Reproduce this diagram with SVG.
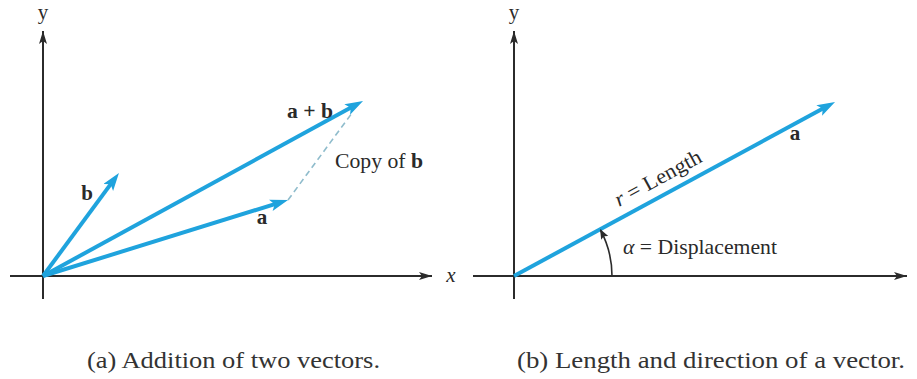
<svg xmlns="http://www.w3.org/2000/svg" width="917" height="379" viewBox="0 0 917 379">
<style>
.axis{stroke:#2b2b2b;stroke-width:2;fill:none;marker-end:url(#axArrow)}
.vec{stroke:#1fa3dd;stroke-width:4;fill:none;stroke-linecap:butt;marker-end:url(#vecArrow)}
.dash{stroke:#8fbccc;stroke-width:1.6;stroke-dasharray:6 4;fill:none}
.arc{stroke:#2b2b2b;stroke-width:1.6;fill:none;marker-end:url(#arcArrow)}
text{font-family:"Liberation Serif","DejaVu Serif",serif;fill:#2a2a2a}
.lbl{font-size:21px}
.bold{font-weight:bold}
.it{font-style:italic}
.cap{font-size:24px;fill:#333}
</style>
<defs>
<marker id="axArrow" markerUnits="userSpaceOnUse" markerWidth="16" markerHeight="10" refX="13" refY="4" orient="auto">
<path d="M0,0 L13,4 L0,8 L3,4 z" fill="#2b2b2b"/>
</marker>
<marker id="vecArrow" markerUnits="userSpaceOnUse" markerWidth="22" markerHeight="14" refX="10" refY="6" orient="auto">
<path d="M0,0 L18,6 L0,12 L4,6 z" fill="#1fa3dd"/>
</marker>
<marker id="arcArrow" markerUnits="userSpaceOnUse" markerWidth="12" markerHeight="10" refX="9" refY="4" orient="auto">
<path d="M0,0 L10,4 L0,8 L2,4 z" fill="#2b2b2b"/>
</marker>
</defs>

<g id="panel-a">
  <g id="axes-a">
    <line class="axis" x1="43" y1="299" x2="43" y2="31"/>
    <line class="axis" x1="10" y1="276" x2="432" y2="276"/>
    <text class="lbl" x="43" y="19" text-anchor="middle">y</text>
    <text class="lbl it" x="451" y="282" text-anchor="middle">x</text>
  </g>
  <g id="connectors-a">
    <line class="dash" x1="288" y1="200" x2="352" y2="113"/>
    <line class="vec" x1="43" y1="276" x2="114.2" y2="179.4"/>
    <line class="vec" x1="43" y1="276" x2="280.4" y2="202.4"/>
    <line class="vec" x1="43" y1="276" x2="356" y2="104.8"/>
  </g>
  <g id="labels-a">
    <text class="lbl bold" x="87" y="200" text-anchor="middle">b</text>
    <text class="lbl bold" x="262" y="224" text-anchor="middle">a</text>
    <text class="lbl bold" x="287" y="118" textLength="46" lengthAdjust="spacingAndGlyphs">a + b</text>
    <text class="lbl" x="335" y="168" textLength="88" lengthAdjust="spacingAndGlyphs">Copy of <tspan class="bold">b</tspan></text>
  </g>
</g>

<g id="panel-b">
  <g id="axes-b">
    <line class="axis" x1="514" y1="299" x2="514" y2="31"/>
    <line class="axis" x1="473" y1="276" x2="907" y2="276"/>
    <text class="lbl" x="514" y="19" text-anchor="middle">y</text>
  </g>
  <g id="connectors-b">
    <line class="vec" x1="514" y1="276" x2="828" y2="105.8"/>
    <path class="arc" d="M612,276 A98,98 0 0,0 600.5,230"/>
  </g>
  <g id="labels-b">
    <text class="lbl bold" x="795" y="140" text-anchor="middle">a</text>
    <text class="lbl" transform="translate(619,207) rotate(-28.5)" textLength="96" lengthAdjust="spacingAndGlyphs"><tspan class="it">r</tspan> = Length</text>
    <text class="lbl" x="623" y="254" textLength="154" lengthAdjust="spacingAndGlyphs"><tspan class="it">α</tspan> = Displacement</text>
  </g>
</g>

<g id="captions">
  <text class="cap" x="87" y="368" textLength="293" lengthAdjust="spacingAndGlyphs">(a) Addition of two vectors.</text>
  <text class="cap" x="517" y="368" textLength="388" lengthAdjust="spacingAndGlyphs">(b) Length and direction of a vector.</text>
</g>
</svg>
